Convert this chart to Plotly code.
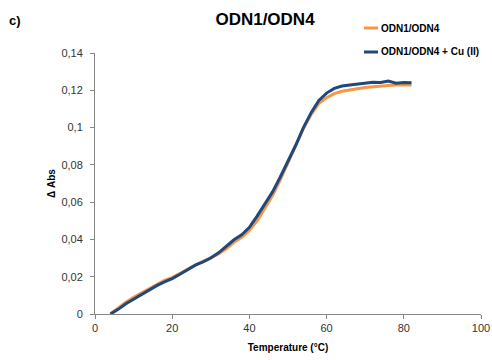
import plotly.graph_objects as go

temperature = [4, 6, 8, 10, 12, 14, 16, 18, 20, 22, 24, 26, 28, 30, 32, 34, 36, 38, 40,
               42, 44, 46, 48, 50, 52, 54, 56, 58, 60, 62, 64, 66, 68, 70, 72, 74, 76, 78, 80, 82]

abs_odn = [0.0000, 0.0032, 0.0063, 0.0090, 0.0113, 0.0138, 0.0160, 0.0180, 0.0195, 0.0218,
           0.0240, 0.0263, 0.0282, 0.0300, 0.0322, 0.0350, 0.0385, 0.0412, 0.0450, 0.0500,
           0.0565, 0.0635, 0.0720, 0.0810, 0.0900, 0.0995, 0.1070, 0.1130, 0.1160, 0.1182,
           0.1195, 0.1200, 0.1208, 0.1215, 0.1220, 0.1222, 0.1226, 0.1228, 0.1230, 0.1228]

abs_cu = [0.0000, 0.0025, 0.0055, 0.0080, 0.0105, 0.0130, 0.0152, 0.0172, 0.0190, 0.0213,
          0.0237, 0.0262, 0.0280, 0.0300, 0.0328, 0.0362, 0.0398, 0.0425, 0.0465, 0.0525,
          0.0590, 0.0655, 0.0735, 0.0820, 0.0905, 0.1000, 0.1080, 0.1145, 0.1185, 0.1210,
          0.1223, 0.1228, 0.1233, 0.1237, 0.1243, 0.1242, 0.1250, 0.1238, 0.1242, 0.1240]

series_names = ["ODN1/ODN4", "ODN1/ODN4 + Cu (II)"]
series_colors = ["#F79646", "#1F497D"]

y_tickvals = [0, 0.02, 0.04, 0.06, 0.08, 0.1, 0.12, 0.14]
y_ticktext = ["0", "0,02", "0,04", "0,06", "0,08", "0,1", "0,12", "0,14"]
x_tickvals = [0, 20, 40, 60, 80, 100]

FONT = "Liberation Sans"
AXIS_COLOR = "#868686"
W, H = 492, 360
L, R, T, B = 95, 11, 53, 46
PW, PH = W - L - R, H - T - B

def px_x(px):
    return (px - L) / PW

def px_y(py):
    return (H - B - py) / PH

fig = go.Figure()
for name, color, ys in zip(series_names, series_colors, [abs_odn, abs_cu]):
    fig.add_trace(go.Scatter(x=temperature, y=ys, mode="lines", name=name,
                             line=dict(color=color, width=3), showlegend=False))

# manual legend (short line swatch + bold text)
shapes = []
annotations = []
legend_rows_y = [28, 52]
for name, color, py in zip(series_names, series_colors, legend_rows_y):
    shapes.append(dict(type="line", xref="paper", yref="paper",
                       x0=px_x(364), x1=px_x(378), y0=px_y(py), y1=px_y(py),
                       line=dict(color=color, width=3)))
    annotations.append(dict(text="<b>" + name + "</b>", xref="paper", yref="paper",
                            x=px_x(379), y=px_y(py), xanchor="left", yanchor="middle",
                            showarrow=False, font=dict(size=10, color="black")))

annotations.append(dict(text="<b>c)</b>", xref="paper", yref="paper",
                        x=px_x(15), y=px_y(20), xanchor="center", yanchor="middle",
                        showarrow=False, font=dict(size=13, color="black")))

fig.update_layout(
    width=W, height=H,
    margin=dict(l=L, r=R, t=T, b=B, autoexpand=False),
    paper_bgcolor="white", plot_bgcolor="white",
    font=dict(family=FONT, size=11, color="#333333"),
    title=dict(text="<b>ODN1/ODN4</b>", x=265/W, xanchor="center", xref="container",
               y=1 - 19/H, yanchor="middle", font=dict(size=17, color="black")),
    showlegend=False,
    xaxis=dict(range=[0, 100], tickvals=x_tickvals, showgrid=False, zeroline=False,
               showline=True, linecolor=AXIS_COLOR, linewidth=1, ticks="outside",
               tickcolor=AXIS_COLOR, ticklen=4,
               title=dict(text="<b>Temperature (°C)</b>", font=dict(size=10, color="black"), standoff=10)),
    yaxis=dict(range=[0, 0.14], tickvals=y_tickvals, ticktext=y_ticktext, showgrid=False,
               zeroline=False, showline=True, linecolor=AXIS_COLOR, linewidth=1,
               ticks="outside", tickcolor=AXIS_COLOR, ticklen=4, ticklabelstandoff=5,
               title=dict(text="<b>Δ Abs</b>", font=dict(size=10, color="black"), standoff=3)),
    shapes=shapes,
    annotations=annotations,
)

fig.write_html("out.html")
